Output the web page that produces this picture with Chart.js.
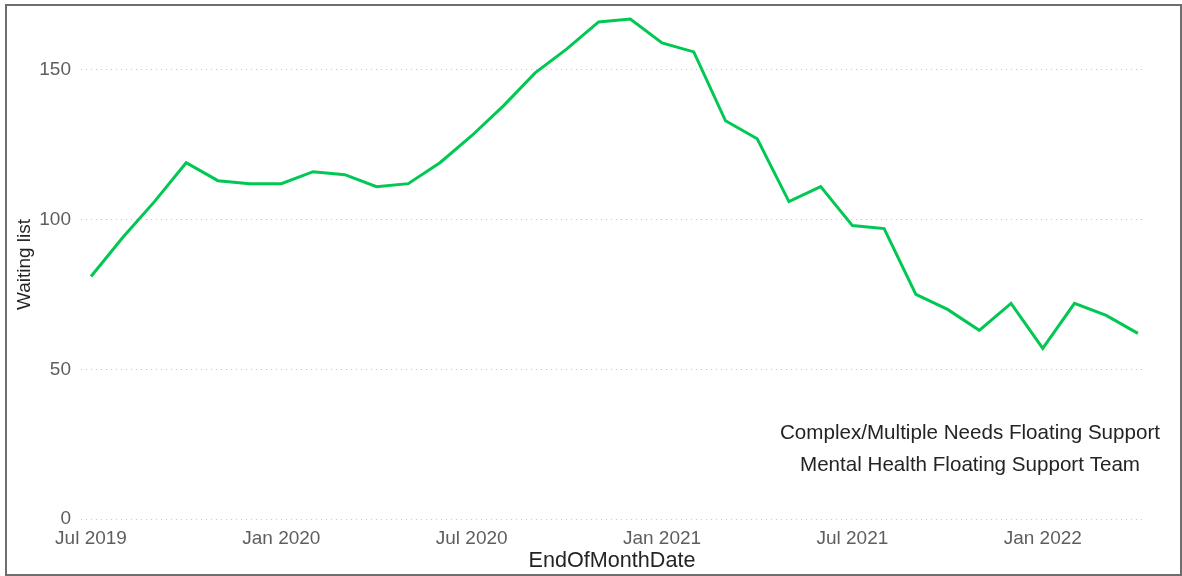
<!DOCTYPE html>
<html>
<head>
<meta charset="utf-8">
<script src="https://cdn.jsdelivr.net/npm/chart.js@4/dist/chart.umd.min.js"></script>
<style>
    body { margin: 0; background: #fff; }
    #zone { position: absolute; left: 0; top: 0; width: 1182px; height: 576px; }
    #cadre { position: absolute; left: 5px; top: 4px; width: 1177px; height: 572px; box-sizing: border-box; border: 2px solid #6e6e6e; pointer-events: none; }
</style>
</head>
<body>
<div id="zone"><canvas id="graphique-attente" width="1182" height="576"></canvas></div>
<div id="cadre"></div>
<script>
// mois de fin de période (un point par mois)
const mois = [
    "Jul 2019", "Aug 2019", "Sep 2019", "Oct 2019", "Nov 2019", "Dec 2019",
    "Jan 2020", "Feb 2020", "Mar 2020", "Apr 2020", "May 2020", "Jun 2020",
    "Jul 2020", "Aug 2020", "Sep 2020", "Oct 2020", "Nov 2020", "Dec 2020",
    "Jan 2021", "Feb 2021", "Mar 2021", "Apr 2021", "May 2021", "Jun 2021",
    "Jul 2021", "Aug 2021", "Sep 2021", "Oct 2021", "Nov 2021", "Dec 2021",
    "Jan 2022", "Feb 2022", "Mar 2022", "Apr 2022"
];

// nombre de personnes sur la liste d'attente
const listeAttente = [
    81, 94, 106, 119, 113, 112,
    112, 116, 115, 111, 112, 119,
    128, 138, 149, 157, 166, 167,
    159, 156, 133, 127, 106, 111,
    98, 97, 75, 70, 63, 72,
    57, 72, 68, 62
];

// graduations affichées
const ticksX = [0, 6, 12, 18, 24, 30];
const ticksY = [0, 50, 100, 150];

// libellés des équipes
const equipes = [
    "Complex/Multiple Needs Floating Support",
    "Mental Health Floating Support Team"
];

const police = "'Liberation Sans', Arial, sans-serif";

// affiche le nom des équipes en bas à droite du graphique
const legendeEquipes = {
    id: "legendeEquipes",
    afterDraw(chart) {
        const ctx = chart.ctx;
        ctx.save();
        ctx.font = "20.6px " + police;
        ctx.fillStyle = "#252423";
        ctx.textAlign = "center";
        ctx.textBaseline = "alphabetic";
        for (let i = 0; i < equipes.length; i++) {
            ctx.fillText(equipes[i], 970, 439 + i * 32);
        }
        ctx.restore();
    }
};

const data = {
    datasets: [{
        label: "Waiting list",
        data: listeAttente.map((v, i) => ({ x: i, y: v })),
        borderColor: "#00c853",
        borderWidth: 3,
        pointRadius: 0,
        tension: 0,
        fill: false
    }]
};

const config = {
    type: "line",
    data: data,
    options: {
        responsive: false,
        animation: false,
        devicePixelRatio: 1,
        layout: { padding: { top: 10, right: 39, left: 0, bottom: 0 } },
        plugins: {
            legend: { display: false },
            tooltip: { enabled: false }
        },
        scales: {
            x: {
                type: "linear",
                min: -0.315,
                max: 33.16,
                afterBuildTicks: (axe) => { axe.ticks = ticksX.map(v => ({ value: v })); },
                afterFit: (axe) => { axe.height = 57; },
                grid: { display: false, drawTicks: false },
                border: { display: false },
                ticks: {
                    callback: (v) => mois[v],
                    autoSkip: false,
                    maxRotation: 0,
                    padding: 8,
                    color: "#605e5c",
                    font: { family: police, size: 19 }
                },
                title: {
                    display: true,
                    text: "EndOfMonthDate",
                    color: "#252423",
                    font: { family: police, size: 21.6 },
                    padding: { top: 0, bottom: 2 }
                }
            },
            y: {
                min: 0,
                max: 170,
                afterBuildTicks: (axe) => { axe.ticks = ticksY.map(v => ({ value: v })); },
                // largeur fixe, sans marge pour les libellés extrêmes
                afterFit: (axe) => {
                    axe.width = 81;
                    axe.paddingTop = 0;
                    axe.paddingBottom = 0;
                },
                grid: { color: "#c8c8c8", lineWidth: 1, drawTicks: false },
                border: { display: false, dash: [1, 4] },
                ticks: {
                    padding: 10,
                    color: "#605e5c",
                    font: { family: police, size: 19 }
                },
                title: {
                    display: true,
                    text: "Waiting list",
                    color: "#252423",
                    font: { family: police, size: 19 },
                    padding: { top: 13, bottom: 0 }
                }
            }
        }
    },
    plugins: [legendeEquipes]
};

new Chart(document.querySelector("#graphique-attente"), config);
</script>
</body>
</html>
